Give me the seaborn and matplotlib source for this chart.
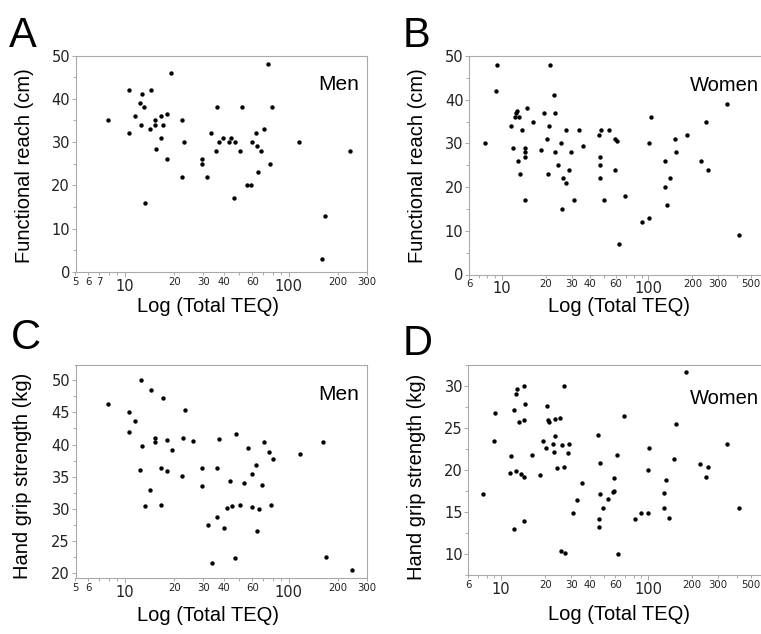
import matplotlib.pyplot as plt
import seaborn as sns
from matplotlib.ticker import FixedLocator, FixedFormatter, LogLocator, FuncFormatter, MultipleLocator

W, H = 761, 634

# A - functional reach, men
teq_a = [7.9, 10.6, 10.6, 11.6, 12.4, 12.5, 12.8, 13.1, 13.2, 14.3, 14.4, 15.3, 15.3, 15.4, 16.5, 16.7,
         17.0, 18.2, 18.2, 19.1, 22.4, 22.4, 23.1, 29.6, 29.6, 31.9, 33.7, 36.1, 36.6, 37.3, 39.8, 43.1,
         44.2, 46.9, 46.5, 50.1, 52.2, 55.3, 59.1, 59.6, 62.8, 63.7, 65.3, 68.0, 70.7, 74.7, 76.9, 78.7,
         115.8, 160.5, 166.7, 237.6]
reach_a = [35, 42, 32, 36, 39, 34, 41, 38, 16, 33, 42, 35, 34, 28.5, 36, 31,
           34, 36.5, 26, 46, 35, 22, 30, 26, 25, 22, 32, 28, 38, 30, 31, 30,
           31, 30, 17, 28, 38, 20, 20, 30, 32, 29, 23, 28, 33, 48, 25, 38,
           30, 3, 13, 28]

# B - functional reach, women
teq_b = [7.7, 9.15, 9.3, 11.6, 11.9, 12.3, 12.5, 12.8, 13.1, 12.85, 13.4, 13.8, 14.4, 14.5, 14.5, 14.5,
         14.9, 16.4, 18.5, 19.4, 20.5, 20.8, 21.2, 21.5, 22.7, 23.2, 23.3, 24.3, 25.5, 25.8, 26.3, 27.5,
         27.6, 28.9, 29.6, 31.3, 33.6, 35.8, 46.0, 46.9, 46.9, 46.9, 47.9, 50.0, 54.2, 59.2, 59.8, 61.7,
         63.0, 69.1, 90.6, 100.6, 100.6, 103.9, 129.5, 129.5, 133.6, 140.8, 153, 155.4, 183.3, 228.3,
         249.5, 256, 345.5, 415]
reach_b = [30, 42, 48, 34, 29, 36, 37, 37.5, 36, 26, 23, 33, 17, 29, 28, 27,
           38, 35, 28.5, 37, 31, 23, 34, 48, 41, 37, 28, 25, 30, 15, 22, 21,
           33, 24, 28, 17, 33, 29.5, 32, 27, 25, 22, 33, 17, 33, 31, 24, 30.5,
           7, 18, 12, 30, 13, 36, 26, 20, 16, 22, 31, 28, 32, 26,
           35, 24, 39, 9]

# C - hand grip strength, men
teq_c = [7.9, 10.6, 10.6, 11.6, 12.4, 12.5, 12.8, 13.2, 14.3, 14.4, 15.3, 15.3, 16.5, 16.7, 17.0, 18.2,
         18.2, 19.3, 22.4, 22.5, 23.2, 25.9, 29.7, 29.7, 32.0, 34.2, 36.4, 36.7, 37.6, 40.1, 41.9, 43.5,
         44.8, 47.2, 47.4, 50.6, 53.1, 56.0, 59.7, 60.0, 63.4, 64.3, 65.8, 68.6, 70.9, 76.2, 78.0, 79.6,
         116.6, 162, 168, 244]
grip_c = [46.3, 45.1, 42.0, 43.6, 36.0, 50.0, 39.8, 30.4, 33.0, 48.4, 41.1, 40.4, 30.7, 36.3, 47.3, 40.7,
          35.9, 39.1, 35.1, 41.0, 45.3, 40.5, 36.3, 33.6, 27.6, 21.6, 28.8, 36.3, 40.8, 27.1, 30.1, 34.3,
          30.4, 22.4, 41.7, 30.7, 34.0, 39.4, 30.3, 35.4, 36.8, 26.6, 30.0, 33.8, 40.4, 38.8, 30.7, 37.8,
          38.6, 40.4, 22.6, 20.6]

# D - hand grip strength, women
teq_d = [7.5, 8.96, 9.15, 11.5, 11.7, 12.2, 12.3, 12.6, 12.6, 12.8, 13.3, 13.6, 14.3, 14.3, 14.3, 14.4,
         14.6, 16.3, 18.3, 19.3, 20.2, 20.5, 20.9, 21.2, 22.5, 22.8, 23.1, 23.1, 24.1, 25.2, 25.6, 26.1,
         26.8, 27.0, 27.2, 28.4, 29.2, 30.8, 33.1, 35.3, 45.5, 46.6, 46.6, 46.8, 47.2, 49.5, 53.6, 57.5,
         59.0, 58.7, 61.6, 62.2, 68.6, 82.0, 89.6, 99.2, 99.2, 102.3, 128.1, 128.8, 132.3, 139.4, 151,
         154, 182, 225, 248, 254, 345, 415]
grip_d = [17.1, 23.4, 26.7, 19.6, 21.6, 27.1, 13.0, 29.0, 19.8, 29.6, 25.7, 19.5, 30.0, 19.1, 13.9, 25.9,
          27.8, 21.7, 19.4, 23.4, 22.6, 27.6, 25.9, 25.7, 23.0, 22.1, 24.0, 26.0, 20.2, 26.1, 10.3, 22.9,
          20.3, 30.0, 10.1, 22.0, 23.0, 14.9, 16.4, 18.4, 24.1, 14.2, 13.2, 17.1, 20.8, 15.5, 16.5, 17.4,
          17.5, 19.0, 21.7, 10.0, 26.4, 14.2, 14.9, 14.9, 20.0, 22.6, 17.2, 15.4, 18.8, 14.3, 21.3,
          25.4, 31.6, 20.7, 19.1, 20.3, 23.1, 15.5]

GRAY = '#a9a9a9'
LABEL_FONT = 'Liberation Sans'

fig = plt.figure(figsize=(W / 100, H / 100), dpi=100)


def px(x, y):
    return x / W, 1 - y / H


def panel(box, x, y, xlim, ylim, ystep, minor_labels):
    l, t, r, b = box
    ax = fig.add_axes([l / W, 1 - b / H, (r - l) / W, (b - t) / H])
    sns.scatterplot(x=x, y=y, ax=ax, color='black', s=10, linewidth=0, legend=False)
    ax.set_xscale('log')
    ax.set_xlim(xlim)
    ax.set_ylim(ylim)
    ax.xaxis.set_major_locator(FixedLocator([10, 100]))
    ax.xaxis.set_major_formatter(FixedFormatter(['10', '100']))
    ax.xaxis.set_minor_locator(LogLocator(base=10, subs=range(2, 10), numticks=30))
    ax.xaxis.set_minor_formatter(FuncFormatter(
        lambda v, p: f'{v:g}' if round(v) in minor_labels else ''))
    ax.yaxis.set_major_locator(MultipleLocator(ystep))
    ax.yaxis.set_minor_locator(MultipleLocator(ystep / 2))
    ax.tick_params(which='both', direction='out', color=GRAY, width=0.7, labelcolor='#222222')
    ax.tick_params(axis='x', which='major', length=3.5, pad=1.5, labelsize=10.5)
    ax.tick_params(axis='x', which='minor', length=2, pad=1.5, labelsize=7.3)
    ax.tick_params(axis='y', which='major', length=3, pad=1, labelsize=10.5)
    ax.tick_params(axis='y', which='minor', length=2)
    for s in ax.spines.values():
        s.set_color(GRAY)
        s.set_linewidth(0.8)
    return ax


ax_a = panel((75.5, 55.5, 367, 272), teq_a, reach_a, (5, 300), (0, 50), 10,
             [5, 6, 7, 20, 30, 40, 60, 200, 300])
ax_b = panel((469, 56, 770, 274.5), teq_b, reach_b, (6, 676), (0, 50), 10,
             [6, 20, 30, 40, 60, 200, 300, 500])
ax_c = panel((75.5, 364.7, 367, 578), teq_c, grip_c, (5, 300), (19.3, 52.4), 5,
             [5, 6, 20, 30, 40, 60, 200, 300])
ax_d = panel((468.5, 364.5, 770, 575), teq_d, grip_d, (6, 676), (7.5, 32.5), 5,
             [6, 20, 30, 40, 60, 200, 300, 500])

# axis labels, placed in figure pixels
labels = [
    (ax_a, 'Functional reach (cm)', 30, 166, 208, 312),
    (ax_b, 'Functional reach (cm)', 423, 166, 619, 312),
    (ax_c, 'Hand grip strength (kg)', 28.5, 476, 208, 621),
    (ax_d, 'Hand grip strength (kg)', 422.5, 477, 619, 620),
]
for ax, ylab, yx, yy, xx, xy in labels:
    ax.set_ylabel(ylab, fontsize=14.5, family=LABEL_FONT, va='baseline')
    ax.yaxis.set_label_coords(*px(yx, yy), transform=fig.transFigure)
    ax.set_xlabel('Log (Total TEQ)', fontsize=14.5, family=LABEL_FONT, va='baseline')
    ax.xaxis.set_label_coords(*px(xx, xy), transform=fig.transFigure)

# group labels
fig.text(*px(359, 90), 'Men', fontsize=15, family=LABEL_FONT, ha='right', va='baseline')
fig.text(*px(359, 400), 'Men', fontsize=15, family=LABEL_FONT, ha='right', va='baseline')
fig.text(*px(690, 91), 'Women', fontsize=14.5, family=LABEL_FONT, ha='left', va='baseline')
fig.text(*px(690, 404), 'Women', fontsize=14.5, family=LABEL_FONT, ha='left', va='baseline')

# panel letters
for letter, x, y in [('A', 9, 47), ('B', 403, 47), ('C', 11, 349), ('D', 403, 355)]:
    fig.text(*px(x, y), letter, fontsize=30, family=LABEL_FONT, ha='left', va='baseline')

fig.savefig('out.png', dpi=100)
